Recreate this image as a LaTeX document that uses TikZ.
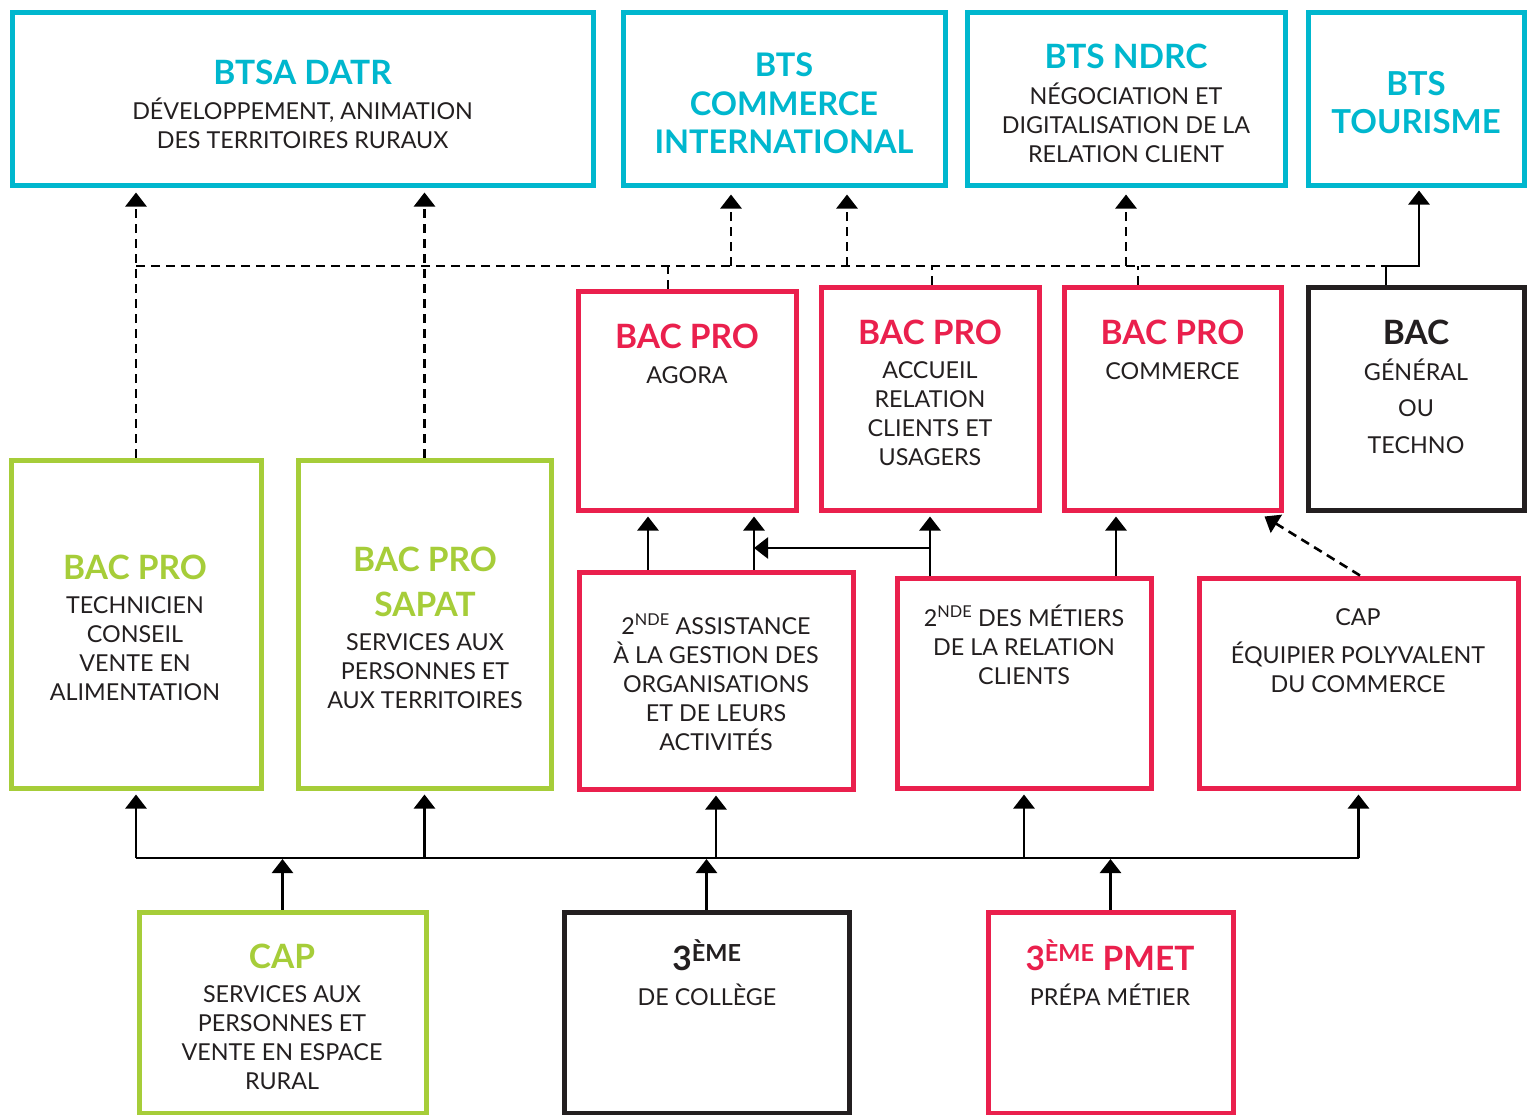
\documentclass[tikz,border=0pt]{standalone}
\usepackage{fontspec}
\setmainfont{Lato}
\usetikzlibrary{arrows.meta}
\definecolor{bcyan}{RGB}{0,183,206}
\definecolor{bred}{RGB}{234,32,77}
\definecolor{bgreen}{RGB}{166,205,57}
\definecolor{bdark}{RGB}{35,31,32}
\begin{document}
\begin{tikzpicture}[x=1pt,y=-1pt,
 box/.style={draw=#1,line width=5pt,inner sep=0pt,fill=none},
 body/.style={text=bdark,align=center,inner sep=0pt,font=\fontsize{23.3}{29}\selectfont},
 ttl/.style={text=#1,align=center,inner sep=0pt,font=\bfseries\fontsize{33.5}{38}\selectfont},
 conn/.style={line width=2.6pt,draw=black},
 dsh/.style={conn,dash pattern=on 9pt off 6pt},
 arr/.style={-{Triangle[width=21pt,length=14pt]}}
]
\useasboundingbox[fill=white] (0,0) rectangle (1528,1114);
% boxes
\node[box=bcyan,minimum width=581pt,minimum height=173pt] (btsa) at (302.5,98.5) {};
\node[box=bcyan,minimum width=322pt,minimum height=173pt] (ci) at (784,98.5) {};
\node[box=bcyan,minimum width=318pt,minimum height=173pt] (ndrc) at (1126,98.5) {};
\node[box=bcyan,minimum width=216pt,minimum height=173pt] (tour) at (1416,98.5) {};
\node[box=bred,minimum width=218pt,minimum height=219pt] (agora) at (687,400.5) {};
\node[box=bred,minimum width=218pt,minimum height=223pt] (arcu) at (930,398.5) {};
\node[box=bred,minimum width=217pt,minimum height=223pt] (comm) at (1172.5,398.5) {};
\node[box=bdark,minimum width=216pt,minimum height=223pt] (bacg) at (1416,398.5) {};
\node[box=bgreen,minimum width=250pt,minimum height=328pt] (tcva) at (136,624) {};
\node[box=bgreen,minimum width=253pt,minimum height=328pt] (sapat) at (424.5,624) {};
\node[box=bred,minimum width=274pt,minimum height=217pt] (assist) at (716,680.5) {};
\node[box=bred,minimum width=254pt,minimum height=210pt] (metiers) at (1024,683) {};
\node[box=bred,minimum width=319pt,minimum height=210pt] (capepc) at (1358.5,683) {};
\node[box=bgreen,minimum width=287pt,minimum height=201pt] (capsap) at (282.5,1012.5) {};
\node[box=bdark,minimum width=285pt,minimum height=201pt] (trois) at (706.5,1012.5) {};
\node[box=bred,minimum width=245pt,minimum height=201pt] (pmet) at (1110.5,1012.5) {};

% texts
\node[ttl=bcyan] (t1) at (302.5,72) {BTSA DATR};
\node[body] (b1) at (302.5,123) {DÉVELOPPEMENT, ANIMATION\\DES TERRITOIRES RURAUX};
\node[ttl=bcyan,font=\bfseries\fontsize{32.5}{38.5}\selectfont] (t2) at (784,103.5) {BTS\\COMMERCE\\INTERNATIONAL};
\node[ttl=bcyan] (t3) at (1126,56) {BTS NDRC};
\node[body] (b3) at (1126,123) {NÉGOCIATION ET\\DIGITALISATION DE LA\\RELATION CLIENT};
\node[ttl=bcyan,font=\bfseries\fontsize{33}{38}\selectfont] (t4) at (1416,103) {BTS\\TOURISME};
\node[ttl=bred] (t5) at (687,336) {BAC PRO};
\node[body] (b5) at (687,375) {AGORA};
\node[ttl=bred] (t6) at (930,332) {BAC PRO};
\node[body] (b6) at (930,413.5) {ACCUEIL\\RELATION\\CLIENTS ET\\USAGERS};
\node[ttl=bred] (t7) at (1172.5,332) {BAC PRO};
\node[body] (b7) at (1172.5,371) {COMMERCE};
\node[ttl=bdark] (t8) at (1416,332) {BAC};
\node[body,font=\fontsize{23.3}{36.5}\selectfont] (b8) at (1416,406) {GÉNÉRAL\\OU\\TECHNO};
\node[ttl=bgreen] (t9) at (135,567) {BAC PRO};
\node[body] (b9) at (135,649) {TECHNICIEN\\CONSEIL\\VENTE EN\\ALIMENTATION};
\node[ttl=bgreen,font=\bfseries\fontsize{33.5}{45}\selectfont] (t10) at (425,581.5) {BAC PRO\\SAPAT};
\node[body] (b10) at (425,671) {SERVICES AUX\\PERSONNES ET\\AUX TERRITOIRES};
\node[body] (b11) at (716,682.5) {2\textsuperscript{NDE} ASSISTANCE\\À LA GESTION DES\\ORGANISATIONS\\ET DE LEURS\\ACTIVITÉS};
\node[body] (b12) at (1024,645) {2\textsuperscript{NDE} DES MÉTIERS\\DE LA RELATION\\CLIENTS};
\node[body] (t13) at (1358,617) {CAP};
\node[body] (b13) at (1358,667) {ÉQUIPIER POLYVALENT\\DU COMMERCE};
\node[ttl=bgreen] (t14) at (282,956) {CAP};
\node[body] (b14) at (282,1038) {SERVICES AUX\\PERSONNES ET\\VENTE EN ESPACE\\RURAL};
\node[ttl=bdark] (t15) at (707,955) {3\textsuperscript{ÈME}};
\node[body] (b15) at (707,995) {DE COLLÈGE};
\node[ttl=bred] (t16) at (1110,955) {3\textsuperscript{ÈME} PMET};
\node[body] (b16) at (1110,995) {PRÉPA MÉTIER};

% hub coordinates
\coordinate (hub) at (0,266);
\coordinate (bus) at (0,858);
\coordinate (mid) at (0,548);

% dashed upper network
\draw[dsh] (tcva.north |- hub) -- ([xshift=-30pt]bacg.north |- hub);
\draw[dsh,arr,shorten >=5pt] (tcva.north) -- (tcva.north |- btsa.south);
\draw[dsh,arr,shorten >=5pt] (sapat.north) -- (sapat.north |- btsa.south);
\draw[dsh] ([xshift=-19pt]agora.north) -- ([xshift=-19pt]agora.north |- hub);
\draw[dsh,arr,shorten >=7pt] ([xshift=-53pt]ci.south |- hub) -- ([xshift=-53pt]ci.south);
\draw[dsh,arr,shorten >=7pt] ([xshift=63pt]ci.south |- hub) -- ([xshift=63pt]ci.south);
\draw[dsh] ([xshift=2pt]arcu.north) -- ([xshift=2pt]arcu.north |- hub);
\draw[dsh,arr,shorten >=7pt] (ndrc.south |- hub) -- (ndrc.south);
\draw[dsh] ([xshift=-34.5pt]comm.north) -- ([xshift=-34.5pt]comm.north |- hub);
\draw[conn,arr,shorten >=3pt] ([xshift=-30pt]bacg.north) -- ([xshift=-30pt]bacg.north |- hub) -- ([xshift=3pt]tour.south |- hub) -- ([xshift=3pt]tour.south);

% middle connections
\draw[conn,arr,shorten >=4pt] ([xshift=-68pt]assist.north) -- ([xshift=-68pt]assist.north |- agora.south);
\draw[conn,arr,shorten >=4pt] ([xshift=38pt]assist.north) -- ([xshift=38pt]assist.north |- agora.south);
\draw[conn,arr,shorten >=4pt] ([xshift=-94pt]metiers.north) -- ([xshift=-94pt]metiers.north |- arcu.south);
\draw[conn,arr,shorten >=0pt] ([xshift=-94pt]metiers.north |- mid) -- ([xshift=38pt]assist.north |- mid);
\draw[conn,arr,shorten >=4pt] ([xshift=92pt]metiers.north) -- ([xshift=92pt]metiers.north |- comm.south);
\draw[dsh,arr] ([xshift=1.5pt]capepc.north) -- ([xshift=-19pt,yshift=-4pt]comm.south east);

% lower bus
\draw[conn] (tcva.south |- bus) -- (capepc.south |- bus);
\draw[conn,arr,shorten >=4pt] (tcva.south |- bus) -- (tcva.south);
\draw[conn,arr,shorten >=4pt] (sapat.south |- bus) -- (sapat.south);
\draw[conn,arr,shorten >=4pt] (assist.south |- bus) -- (assist.south);
\draw[conn,arr,shorten >=4pt] (metiers.south |- bus) -- (metiers.south);
\draw[conn,arr,shorten >=4pt] (capepc.south |- bus) -- (capepc.south);
\draw[conn,arr,shorten >=1pt] (capsap.north) -- (capsap.north |- bus);
\draw[conn,arr,shorten >=1pt] (trois.north) -- (trois.north |- bus);
\draw[conn,arr,shorten >=1pt] (pmet.north) -- (pmet.north |- bus);
\end{tikzpicture}
\end{document}
